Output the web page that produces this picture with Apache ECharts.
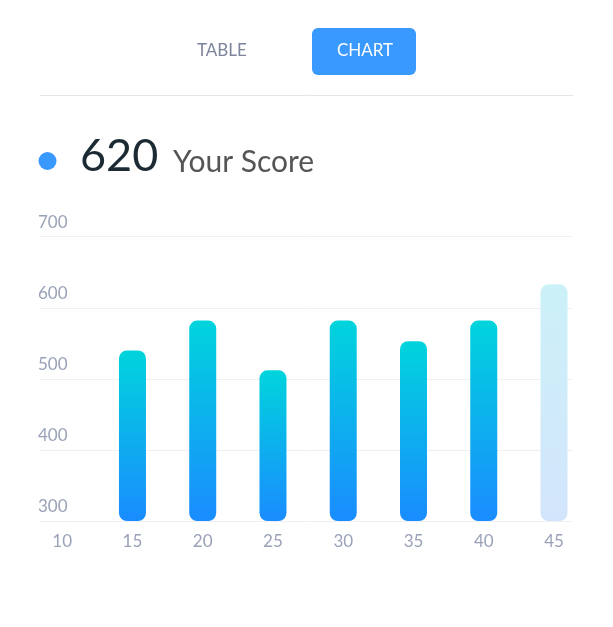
<!DOCTYPE html>
<html>
<head>
<meta charset="utf-8">
<title>Your Score</title>
<script src="https://cdn.jsdelivr.net/npm/echarts@6/dist/echarts.min.js"></script>
<style>
  html, body { margin: 0; padding: 0; background: #fff; }
  #chart { width: 613px; height: 627px; }
</style>
</head>
<body>
<div id="chart"></div>
<script>
// data
var ages = [15, 20, 25, 30, 35, 40, 45];
var scores = [540, 582, 512, 582, 553, 582, 633];
var xTicks = [10, 15, 20, 25, 30, 35, 40, 45];
var yourScore = 620;

var myChart = echarts.init(document.getElementById('chart'));
var font = 'Lato, "Open Sans", sans-serif';

var barColor = new echarts.graphic.LinearGradient(0, 0, 0, 1, [
    { offset: 0, color: '#00d4dc' },
    { offset: 1, color: '#1a8cff' }
]);
var futureColor = new echarts.graphic.LinearGradient(0, 0, 0, 1, [
    { offset: 0, color: '#ccf1f8' },
    { offset: 1, color: '#d3e5fc' }
]);

var barData = [];
for (var i = 0; i < ages.length; i++) {
    var item = { value: [ages[i], scores[i]] };
    if (i == ages.length - 1) {
        item.itemStyle = { color: futureColor };
    }
    barData.push(item);
}

var option = {
    backgroundColor: '#fff',
    animation: false,
    textStyle: { fontFamily: font },
    graphic: [
        { type: 'text', left: 197, top: 42, style: { text: 'TABLE', fill: '#7d849b', font: '17px ' + font } },
        { type: 'rect', shape: { x: 312, y: 28, width: 104, height: 47, r: 6 }, style: { fill: '#3a99ff' } },
        { type: 'text', left: 337, top: 42, style: { text: 'CHART', fill: '#fff', font: '17px ' + font } },
        { type: 'line', shape: { x1: 40, y1: 95.5, x2: 573, y2: 95.5 }, style: { stroke: '#e4e6ea', lineWidth: 1 } },
        { type: 'circle', shape: { cx: 47.5, cy: 161, r: 9 }, style: { fill: '#3a99ff' } },
        { type: 'text', left: 80, top: 134, style: { text: String(yourScore), fill: '#1c2b33', font: '45px ' + font } },
        { type: 'text', left: 173, top: 147, style: { text: 'Your Score', fill: '#555', font: '30px ' + font } }
    ],
    grid: { left: 40, right: 40.3, top: 236.7, bottom: 106 },
    xAxis: {
        type: 'value',
        min: 8.42,
        max: 46.33,
        axisLine: { show: false },
        axisTick: { show: false },
        splitLine: { show: false },
        axisLabel: {
            customValues: xTicks,
            color: '#9aa2b8',
            fontSize: 17,
            margin: 12
        }
    },
    yAxis: {
        type: 'value',
        min: 300,
        max: 700,
        interval: 100,
        axisLine: { show: false },
        axisTick: { show: false },
        splitLine: { lineStyle: { color: '#eef0f2', width: 1 } },
        axisLabel: {
            inside: true,
            margin: -2,
            verticalAlign: 'bottom',
            padding: [0, 0, 6, 0],
            color: '#9aa2b8',
            fontSize: 17
        }
    },
    series: [{
        type: 'bar',
        barWidth: 27,
        data: barData,
        itemStyle: { color: barColor, borderRadius: 8 }
    }]
};
myChart.setOption(option);
</script>
</body>
</html>
